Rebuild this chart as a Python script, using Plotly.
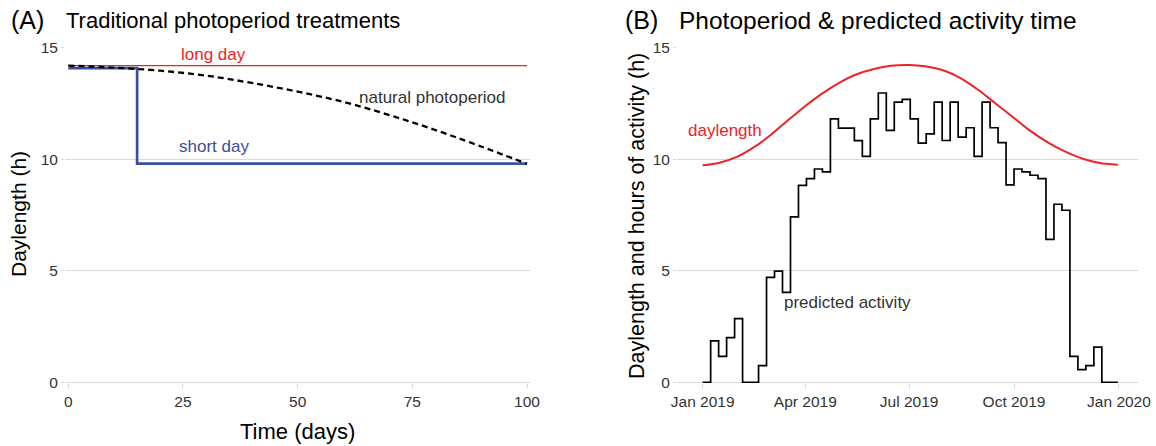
import pandas as pd
import plotly.graph_objects as go

# ---------------- data ----------------
# Panel A: traditional photoperiod treatments
long_day_days = [0, 100]
long_day_hours = [14.21, 14.21]

short_day_days = [0, 15, 100]
short_day_hours = [14.1, 9.81, 9.81]

natural_days = [0, 10, 20, 30, 40, 50, 60, 70, 80, 90, 100]
natural_hours = [14.21, 14.12, 13.98, 13.76, 13.43, 13.04, 12.58, 11.99, 11.32, 10.58, 9.80]

a_xticks = [0, 25, 50, 75, 100]
y_ticks = [0, 5, 10, 15]

# Panel B: photoperiod and predicted activity
daylength_dates = ["2019-01-01", "2019-01-15", "2019-02-01", "2019-02-15", "2019-03-01",
                   "2019-03-15", "2019-04-01", "2019-04-15", "2019-05-01", "2019-05-15",
                   "2019-06-01", "2019-06-15", "2019-07-01", "2019-07-15", "2019-08-01",
                   "2019-08-15", "2019-09-01", "2019-09-15", "2019-10-01", "2019-10-15",
                   "2019-11-01", "2019-11-15", "2019-12-01", "2019-12-15", "2019-12-31"]
daylength_hours = [9.74, 9.84, 10.14, 10.55, 11.07,
                   11.68, 12.40, 12.93, 13.45, 13.80,
                   14.07, 14.20, 14.24, 14.18, 13.98,
                   13.65, 13.07, 12.50, 11.86, 11.29,
                   10.72, 10.35, 10.02, 9.84, 9.76]

# weekly predicted hours of activity, weeks starting 1 Jan 2019
activity_hours = [0.00, 1.86, 1.16, 2.01, 2.86, 0.00, 0.00, 0.75, 4.71, 4.99,
                  4.04, 7.42, 8.84, 9.14, 9.57, 9.44, 11.82, 11.40, 11.40, 10.84,
                  10.14, 11.82, 12.98, 11.30, 12.57, 12.69, 11.82, 10.73, 11.15, 12.57,
                  10.85, 12.57, 11.00, 11.42, 10.14, 12.57, 11.42, 10.75, 8.86, 9.57,
                  9.44, 9.29, 9.14, 6.41, 7.99, 7.72, 1.16, 0.57, 0.75, 1.58,
                  0.00, 0.00]
activity_start = "2019-01-01"
activity_end = "2019-12-31"

b_tickvals = ["2019-01-01", "2019-04-01", "2019-07-01", "2019-10-01", "2020-01-01"]
b_ticktext = ["Jan 2019", "Apr 2019", "Jul 2019", "Oct 2019", "Jan 2020"]

# ---------------- style ----------------
W, H = 1156, 446
FONT = "Liberation Sans, Arial, sans-serif"
RED = "#EE2326"
BLUE = "#3A4FA0"
GRID = "#DADADA"
TXT = "#333333"

def fx(p):
    return p / W

def fy(p):
    return 1 - p / H

week_starts = list(pd.date_range(activity_start, periods=len(activity_hours), freq="7D"))
step_x = week_starts + [pd.Timestamp(activity_end)]
step_y = activity_hours + [activity_hours[-1]]

fig = go.Figure()

# Panel A
fig.add_trace(go.Scatter(x=long_day_days, y=long_day_hours, mode="lines",
                         line=dict(color=RED, width=1.4), xaxis="x", yaxis="y",
                         showlegend=False, hoverinfo="skip"))
fig.add_trace(go.Scatter(x=short_day_days, y=short_day_hours, mode="lines",
                         line=dict(color=BLUE, width=2.7, shape="hv"), xaxis="x", yaxis="y",
                         showlegend=False, hoverinfo="skip"))
fig.add_trace(go.Scatter(x=natural_days, y=natural_hours, mode="lines",
                         line=dict(color="black", width=2.3, dash="6px,4px", shape="spline"),
                         xaxis="x", yaxis="y", showlegend=False, hoverinfo="skip"))

# Panel B
fig.add_trace(go.Scatter(x=daylength_dates, y=daylength_hours, mode="lines",
                         line=dict(color=RED, width=2, shape="spline", smoothing=0.8),
                         xaxis="x2", yaxis="y2", showlegend=False, hoverinfo="skip"))
fig.add_trace(go.Scatter(x=step_x, y=step_y, mode="lines",
                         line=dict(color="black", width=1.7, shape="hv"), xaxis="x2", yaxis="y2",
                         showlegend=False, hoverinfo="skip"))

ydom = [fy(383), fy(47.3)]
yaxis_common = dict(domain=ydom, range=[-0.03, 15.03], tickvals=y_ticks, automargin=False,
                    showgrid=True, gridcolor=GRID, gridwidth=1.4,
                    zeroline=True, zerolinecolor=GRID, zerolinewidth=1.4,
                    showline=False, ticks="outside", ticklen=3, tickcolor=GRID, tickwidth=1.2,
                    tickfont=dict(family=FONT, size=15.5, color=TXT), fixedrange=True)
xaxis_common = dict(showgrid=False, zeroline=False, showline=False, automargin=False,
                    ticks="outside", ticklen=4, tickcolor=GRID, tickwidth=1.4,
                    tickfont=dict(family=FONT, size=15.5, color=TXT), fixedrange=True)

fig.update_layout(
    width=W, height=H,
    margin=dict(l=0, r=0, t=0, b=0, autoexpand=False),
    paper_bgcolor="white", plot_bgcolor="white",
    xaxis=dict(domain=[fx(65), fx(530)], range=[-0.72, 100.65], tickvals=a_xticks,
               anchor="y", **xaxis_common),
    yaxis=dict(anchor="x", **yaxis_common),
    xaxis2=dict(domain=[fx(677), fx(1137.5)], type="date",
                range=["2018-12-09 12:00", "2020-01-17 06:00"],
                tickvals=b_tickvals, ticktext=b_ticktext, anchor="y2", **xaxis_common),
    yaxis2=dict(anchor="x2", **yaxis_common),
)

ann = []
# panel titles
ann.append(dict(text="(A)", x=fx(9), y=fy(20), xref="paper", yref="paper",
                xanchor="left", yanchor="middle", showarrow=False,
                font=dict(family=FONT, size=25, color="black")))
ann.append(dict(text="Traditional photoperiod treatments", x=fx(64), y=fy(20), xref="paper", yref="paper",
                xanchor="left", yanchor="middle", showarrow=False,
                font=dict(family=FONT, size=22, color="black")))
ann.append(dict(text="(B)", x=fx(623), y=fy(20), xref="paper", yref="paper",
                xanchor="left", yanchor="middle", showarrow=False,
                font=dict(family=FONT, size=25, color="black")))
ann.append(dict(text="Photoperiod &amp; predicted activity time", x=fx(677), y=fy(20), xref="paper", yref="paper",
                xanchor="left", yanchor="middle", showarrow=False,
                font=dict(family=FONT, size=24.5, color="black")))
# axis titles
ann.append(dict(text="Time (days)", x=fx(297.5), y=fy(431), xref="paper", yref="paper",
                xanchor="center", yanchor="middle", showarrow=False,
                font=dict(family=FONT, size=22, color="black")))
ann.append(dict(text="Daylength (h)", x=fx(18), y=fy(214), xref="paper", yref="paper",
                xanchor="center", yanchor="middle", showarrow=False, textangle=-90,
                font=dict(family=FONT, size=21, color="black")))
ann.append(dict(text="Daylength and hours of activity (h)", x=fx(637), y=fy(216), xref="paper", yref="paper",
                xanchor="center", yanchor="middle", showarrow=False, textangle=-90,
                font=dict(family=FONT, size=21.5, color="black")))
# in-plot labels
ann.append(dict(text="long day", x=31.7, y=14.69, xref="x", yref="y", showarrow=False,
                xanchor="center", yanchor="middle", font=dict(family=FONT, size=17, color=RED)))
ann.append(dict(text="short day", x=31.8, y=10.58, xref="x", yref="y", showarrow=False,
                xanchor="center", yanchor="middle", font=dict(family=FONT, size=17, color=BLUE)))
ann.append(dict(text="natural photoperiod", x=79.3, y=12.79, xref="x", yref="y", showarrow=False,
                xanchor="center", yanchor="middle", font=dict(family=FONT, size=17, color=TXT)))
ann.append(dict(text="daylength", x="2019-01-20 12:00", y=11.30, xref="x2", yref="y2", showarrow=False,
                xanchor="center", yanchor="middle", font=dict(family=FONT, size=17, color=RED)))
ann.append(dict(text="predicted activity", x="2019-05-08", y=3.58, xref="x2", yref="y2", showarrow=False,
                xanchor="center", yanchor="middle", font=dict(family=FONT, size=17, color=TXT)))
fig.update_layout(annotations=ann)

# remove the default page margin so the figure fills the window exactly
fig.write_html("out.html", config={"displayModeBar": False},
               post_script="document.body.style.margin='0px';")
